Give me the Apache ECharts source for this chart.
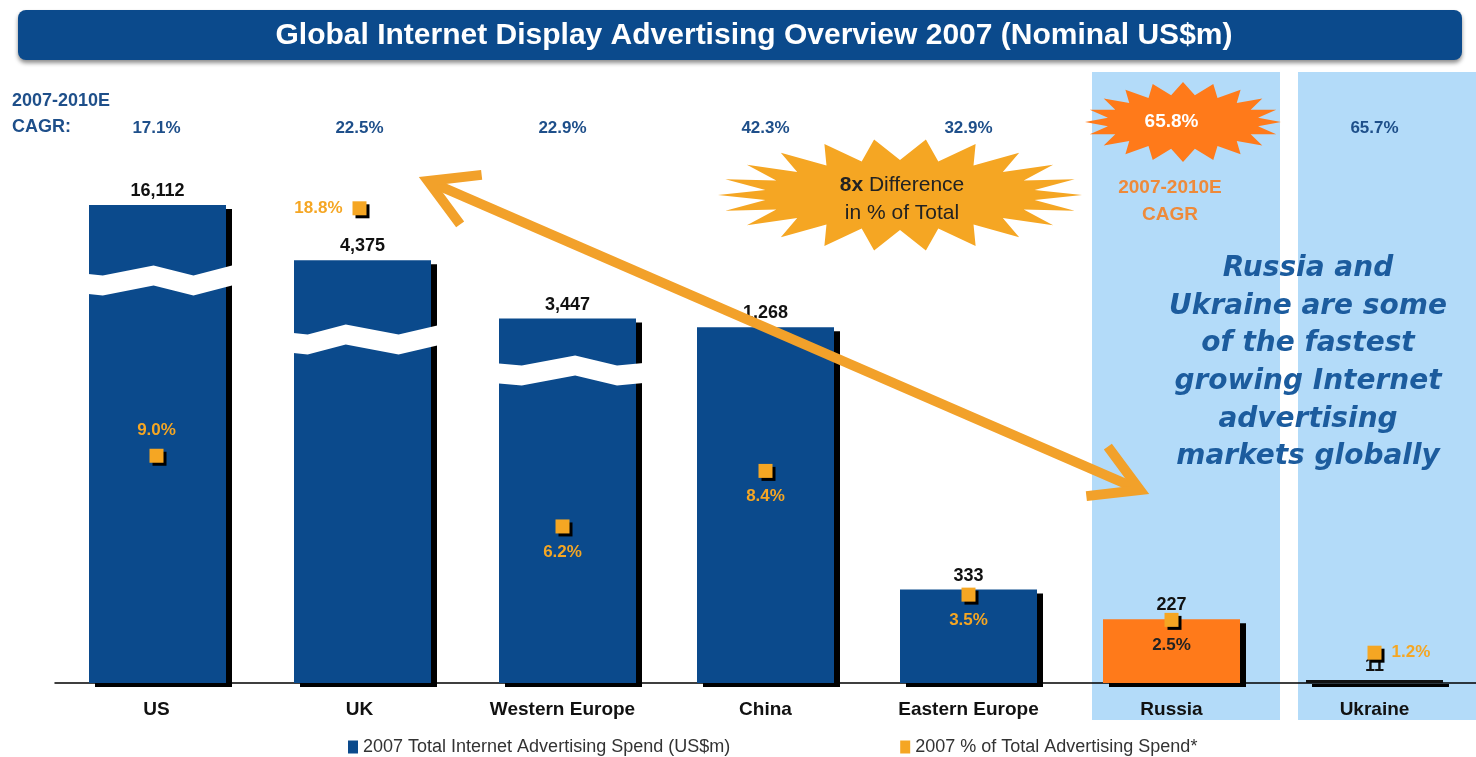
<!DOCTYPE html>
<html><head><meta charset="utf-8">
<script src="https://cdn.jsdelivr.net/npm/echarts@6/dist/echarts.min.js"></script>
<style>html,body{margin:0;padding:0;background:#fff}#c{width:1476px;height:757px}</style>
</head><body><div id="c"></div>
<script>
// ---- data ----
const categories = ['US', 'UK', 'Western Europe', 'China', 'Eastern Europe', 'Russia', 'Ukraine'];
const spend = [16112, 4375, 3447, 1268, 333, 227, 11];          // 2007 Total Internet Advertising Spend (US$m)
const shareOfTotal = [9.0, 18.8, 6.2, 8.4, 3.5, 2.5, 1.2];      // 2007 % of Total Advertising Spend
const cagr = [17.1, 22.5, 22.9, 42.3, 32.9, 65.8, 65.7];        // 2007-2010E CAGR (%)
const legendNames = ['2007 Total Internet Advertising Spend (US$m)', '2007 % of Total Advertising Spend*'];

// ---- broken-axis configuration (axis scale, not data) ----
const brokenBars = [0, 1, 2];
const breakCfg = [
  { start: 1400, end: 15880, max: 16208 },
  { start: 1190, end: 4130, max: 4668 },
  { start: 1080, end: 3300, max: 3948 }
];
const pctLabelPos = ['top', 'left', 'bottom', 'bottom', 'bottom', 'bottom', 'right'];

const NAVY = '#0B4A8C', ORANGE = '#FF7A1A', GOLD = '#F5A623', FONT = '"Liberation Sans", Arial, sans-serif';
const GRID_LEFT = 55, BAND = 205, GRID_TOP = 178, GRID_H = 505;
const barColorOverride = { 5: ORANGE, 6: '#111' };

const chart = echarts.init(document.getElementById('c'), null, { renderer: 'canvas' });

const barStyle = { color: NAVY, borderWidth: 0, shadowColor: '#000', shadowOffsetX: 6, shadowOffsetY: 4, shadowBlur: 0 };
const barLabel = { show: true, position: 'top', distance: 5, color: '#111', fontWeight: 'bold', fontSize: 18, fontFamily: FONT,
  formatter: p => Number(p.value).toLocaleString('en-US') };

const grids = [{ left: GRID_LEFT, top: GRID_TOP, width: BAND * categories.length, height: GRID_H }];
const xAxes = [
  { type: 'category', gridIndex: 0, data: categories, axisTick: { show: false },
    axisLine: { lineStyle: { color: '#000', width: 1.5 } },
    axisLabel: { fontWeight: 'bold', fontSize: 19, color: '#111', margin: 17, fontFamily: FONT } },
  { type: 'category', gridIndex: 0, position: 'top', offset: 33, data: cagr.map(v => v.toFixed(1) + '%'),
    axisLine: { show: false }, axisTick: { show: false },
    axisLabel: { fontWeight: 'bold', fontSize: 17, color: '#1E4F8A', fontFamily: FONT,
      formatter: (v, i) => i === 5 ? '{w|' + v + '}' : v,
      rich: { w: { color: '#fff', fontSize: 19, fontWeight: 'bold', fontFamily: FONT, padding: [0, 0, 6, 0] } } } }
];
const yAxes = [
  { type: 'value', gridIndex: 0, min: 0, max: 1800, show: false },
  { type: 'value', gridIndex: 0, min: 0, max: 20, show: false }
];
const series = [
  { type: 'bar', name: legendNames[0], xAxisIndex: 0, yAxisIndex: 0, barWidth: 137, z: 2,
    itemStyle: barStyle, label: barLabel,
    data: spend.map((v, i) => brokenBars.includes(i) ? '-' :
      (barColorOverride[i] ? { value: v, itemStyle: { color: barColorOverride[i] } } : v)) }
];

brokenBars.forEach((idx, k) => {
  const g = k + 1;
  grids.push({ left: GRID_LEFT + idx * BAND, top: GRID_TOP, width: BAND, height: GRID_H });
  xAxes.push({ type: 'category', gridIndex: g, data: [categories[idx]], show: false });
  yAxes.push({ type: 'value', gridIndex: g, min: 0, max: breakCfg[k].max,
    axisLine: { show: false }, axisTick: { show: false }, axisLabel: { show: false }, splitLine: { show: false },
    breaks: [{ start: breakCfg[k].start, end: breakCfg[k].end, gap: '4%' }],
    breakArea: { show: true, expandOnClick: false, zigzagAmplitude: 5, zigzagMinSpan: 30, zigzagMaxSpan: 60,
      itemStyle: { color: '#fff', borderColor: '#fff', borderWidth: 0, opacity: 1 } } });
  series.push({ type: 'bar', name: legendNames[0], xAxisIndex: 1 + g, yAxisIndex: 1 + g, barWidth: 137, z: 2,
    itemStyle: barStyle, label: barLabel, data: [spend[idx]] });
});

series.push({ type: 'scatter', name: legendNames[1], xAxisIndex: 0, yAxisIndex: 1, symbol: 'rect', symbolSize: 14, z: 10,
  itemStyle: { color: GOLD, opacity: 1, shadowColor: '#000', shadowOffsetX: 3, shadowOffsetY: 3, shadowBlur: 0 },
  label: { show: true, fontWeight: 'bold', fontSize: 17, fontFamily: FONT, distance: 10, formatter: p => p.value.toFixed(1) + '%' },
  data: shareOfTotal.map((v, i) => ({ value: v, label: { position: pctLabelPos[i], color: i === 5 ? '#222' : GOLD } })) });

// ---- decorations ----
function starburst(cx, cy, rxo, ryo, rxi, ryi, n) {
  const pts = [];
  for (let i = 0; i < n * 2; i++) {
    const a = Math.PI * i / n;
    const o = i % 2 === 0;
    pts.push([cx + Math.cos(a) * (o ? rxo : rxi), cy + Math.sin(a) * (o ? ryo : ryi)]);
  }
  return pts;
}
function arrow(p1, p2, len, ang) {
  const dx = p2[0] - p1[0], dy = p2[1] - p1[1], L = Math.hypot(dx, dy);
  const ux = dx / L, uy = dy / L;
  const rot = (x, y, a) => [x * Math.cos(a) - y * Math.sin(a), x * Math.sin(a) + y * Math.cos(a)];
  const head = (p, sx, sy) => {
    const a1 = rot(sx, sy, ang), a2 = rot(sx, sy, -ang);
    return [[p[0] + a1[0] * len, p[1] + a1[1] * len], p, [p[0] + a2[0] * len, p[1] + a2[1] * len]];
  };
  return [head(p1, ux, uy), head(p2, -ux, -uy)];
}
const arrowColor = '#F2A12A';
const heads = arrow([428, 181], [1140, 490], 54, Math.PI / 6);
const txt = (x, y, text, font, fill, extra) => Object.assign({ type: 'text', x, y, z: 50,
  style: Object.assign({ text, font, fill, align: 'center', verticalAlign: 'middle', textAlign: 'center', textVerticalAlign: 'middle' }, extra || {}) });

const graphic = [
  { type: 'rect', z: -10, shape: { x: 1092, y: 72, width: 188, height: 648 }, style: { fill: '#B3DBF9' } },
  { type: 'rect', z: -10, shape: { x: 1298, y: 72, width: 178, height: 648 }, style: { fill: '#B3DBF9' } },
  { type: 'rect', z: 40, shape: { x: 18, y: 10, width: 1444, height: 50, r: 8 },
    style: { fill: NAVY, shadowBlur: 4, shadowColor: 'rgba(0,0,0,0.45)', shadowOffsetY: 3 } },
  txt(754, 36, 'Global Internet Display Advertising Overview 2007 (Nominal US$m)', 'bold 30px ' + FONT, '#fff'),
  txt(12, 101, '2007-2010E', 'bold 18px ' + FONT, '#1E4F8A', { align: 'left', textAlign: 'left' }),
  txt(12, 127, 'CAGR:', 'bold 18px ' + FONT, '#1E4F8A', { align: 'left', textAlign: 'left' }),
  { type: 'polygon', z: -5, shape: { points: starburst(1183, 122, 98, 40, 76, 27, 20) }, style: { fill: ORANGE } },
  { type: 'polygon', z: 30, shape: { points: starburst(900, 195, 182, 56, 136, 35, 22) }, style: { fill: GOLD } },
  txt(902, 199, '{b|8x} Difference\nin % of Total', '21px ' + FONT, '#222',
    { lineHeight: 28, rich: { b: { font: 'bold 21px ' + FONT, fill: '#222' } } }),
  txt(1170, 201, '2007-2010E\nCAGR', 'bold 19px ' + FONT, '#EE8A3A', { lineHeight: 27 }),
  txt(1308, 363, 'Russia and\nUkraine are some\nof the fastest\ngrowing Internet\nadvertising\nmarkets globally',
    'italic bold 28px "DejaVu Sans", sans-serif', '#1C5C9E', { lineHeight: 37.6 }),
  { type: 'polyline', z: 35, shape: { points: [[428, 181], [1140, 490]] }, style: { stroke: arrowColor, lineWidth: 10, fill: null } },
  { type: 'polyline', z: 35, shape: { points: heads[0] }, style: { stroke: arrowColor, lineWidth: 10, fill: null, lineJoin: 'miter' } },
  { type: 'polyline', z: 35, shape: { points: heads[1] }, style: { stroke: arrowColor, lineWidth: 10, fill: null, lineJoin: 'miter' } }
];

chart.setOption({
  animation: false,
  backgroundColor: '#fff',
  grid: grids, xAxis: xAxes, yAxis: yAxes, series,
  legend: { data: legendNames, left: 343, top: 733, itemGap: 170, icon: 'rect', itemWidth: 10, itemHeight: 13,
    textStyle: { fontSize: 18, color: '#333', fontFamily: FONT } },
  graphic
});
</script></body></html>
